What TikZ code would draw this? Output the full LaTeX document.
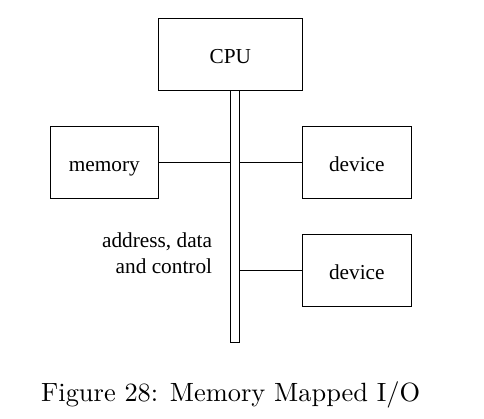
\documentclass[tikz,border=0pt]{standalone}
\usepackage{fontspec}
\newfontfamily\diagfont{Liberation Serif}
\begin{document}
\begin{tikzpicture}[x=1pt,y=-1pt,
  box/.style={draw=black,line width=1pt,inner sep=0pt,minimum height=72pt,
    text height=18pt,text depth=0pt,font=\diagfont\fontsize{21.3}{25.7}\selectfont},
  wire/.style={draw=black,line width=1pt}]
\useasboundingbox (0,0) rectangle (484,419);
\node[box,minimum width=144pt] (cpu) at (230.3,54.3) {CPU};
\node[box,minimum width=108pt] (mem) at (104.3,162.3) {memory};
\node[box,minimum width=109pt] (dev1) at (356.8,162.3) {device};
\node[box,minimum width=109pt] (dev2) at (356.8,270.3) {device};
\node[draw=black,line width=1pt,inner sep=0pt,minimum width=9pt,minimum height=252pt] (bus) at (234.8,216.3) {};
\draw[wire] (mem.east) -- (mem.east -| bus.west);
\draw[wire] (dev1.west) -- (dev1.west -| bus.east);
\draw[wire] (dev2.west) -- (dev2.west -| bus.east);
\node[font=\diagfont\fontsize{21.3}{25.7}\selectfont,align=right,anchor=east,inner sep=0pt] (lbl) at (212.3,253) {address, data\\and control};
\node[anchor=base west,inner sep=0pt] (cap) at (41,401) {\scalebox{2.64}{\fontsize{10}{12}\selectfont Figure 28: Memory Mapped I/O}};
\end{tikzpicture}
\end{document}
